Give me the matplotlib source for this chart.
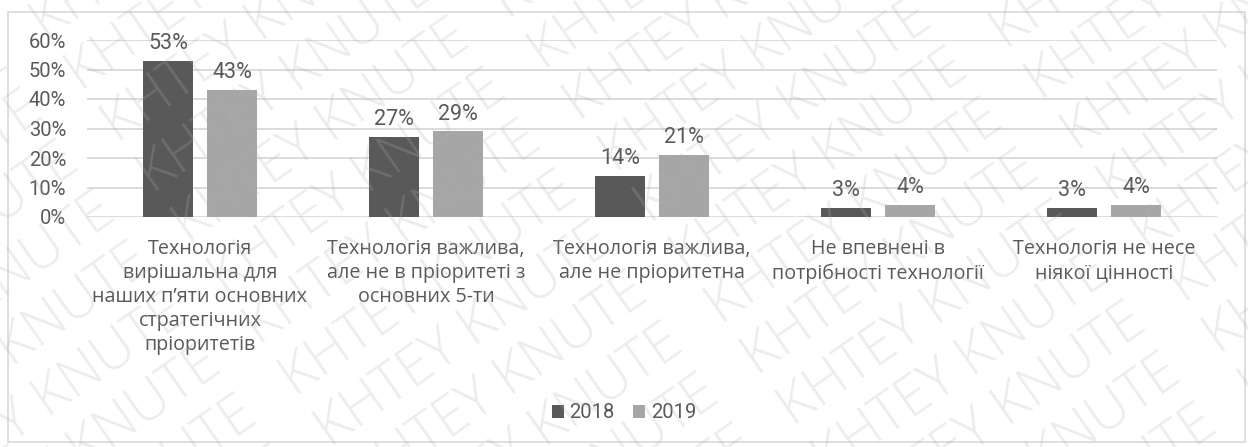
import numpy as np
import matplotlib.pyplot as plt
from matplotlib.patches import Rectangle

# --- дані ---
categories = [
    "Технологія\nвирішальна для\nнаших п’яти основних\nстратегічних\nпріоритетів",
    "Технологія важлива,\nале не в пріоритеті з\nосновних 5-ти",
    "Технологія важлива,\nале не пріоритетна",
    "Не впевнені в\nпотрібності технології",
    "Технологія не несе\nніякої цінності",
]
values_2018 = [53, 27, 14, 3, 3]
values_2019 = [43, 29, 21, 4, 4]
years = ["2018", "2019"]
yticks = [0, 10, 20, 30, 40, 50, 60]

col_2018 = "#595959"
col_2019 = "#a6a6a6"
txt_col = "#595959"

W, H = 1248, 447
fig = plt.figure(figsize=(W / 100, H / 100), dpi=100)
ax = fig.add_axes([87 / W, 1 - 217 / H, 1130 / W, 177 / H])

x = np.arange(len(categories))
w = 0.225
off = 0.1416
b1 = ax.bar(x - off, values_2018, w, color=col_2018, label=years[0], zorder=3)
b2 = ax.bar(x + off, values_2019, w, color=col_2019, label=years[1], zorder=3)

for bars, vals in [(b1, values_2018), (b2, values_2019)]:
    for r, v in zip(bars, vals):
        ax.annotate(f"{v}%", (r.get_x() + r.get_width() / 2, v),
                    xytext=(0, 5), textcoords="offset points",
                    ha="center", va="bottom", fontsize=15.5,
                    family="Roboto", color=txt_col)

ax.set_xlim(-0.5, len(categories) - 0.5)
ax.set_ylim(0, 60)
ax.set_yticks(yticks)
ax.set_yticklabels([f"{t}%" for t in yticks], family="Roboto",
                   fontsize=14.5, color=txt_col)
ax.set_xticks(x)
ax.set_xticklabels(categories, family="Open Sans", fontsize=14.2,
                   color=txt_col, linespacing=1.27)
ax.tick_params(axis="y", length=0, pad=15)
ax.tick_params(axis="x", length=0, pad=16)
ax.grid(axis="y", color="#d9d9d9", lw=1.3, zorder=0)
for s in ax.spines.values():
    s.set_visible(False)

leg = fig.legend(loc="center", bbox_to_anchor=(0.5, 1 - 413 / H), ncol=2,
                 frameon=False, handlelength=0.6, handleheight=0.6,
                 handletextpad=0.3, columnspacing=0.9,
                 prop={"family": "Roboto", "size": 14.5})
for t in leg.get_texts():
    t.set_color(txt_col)

# рамка діаграми
fig.patches.append(Rectangle((8 / W, 1 - 442 / H), 1237 / W, 430 / H,
                             transform=fig.transFigure, fill=False,
                             edgecolor="#d9d9d9", lw=1.2))

# водяний знак
ang = np.deg2rad(35)
nx, ny = -np.sin(ang), np.cos(ang)
mark = "   ".join(["KHTEY KNUTE"] * 8)
for k in range(-9, 10):
    cx = W / 2 + k * 62 * nx
    cy = H / 2 + k * 62 * ny
    fig.text(cx / W, cy / H, mark, rotation=35, rotation_mode="anchor",
             fontsize=40, family="Open Sans", weight="light",
             color="#b0b0b0", alpha=0.24, ha="center", va="center",
             zorder=10)

fig.savefig("out.png", dpi=100)
